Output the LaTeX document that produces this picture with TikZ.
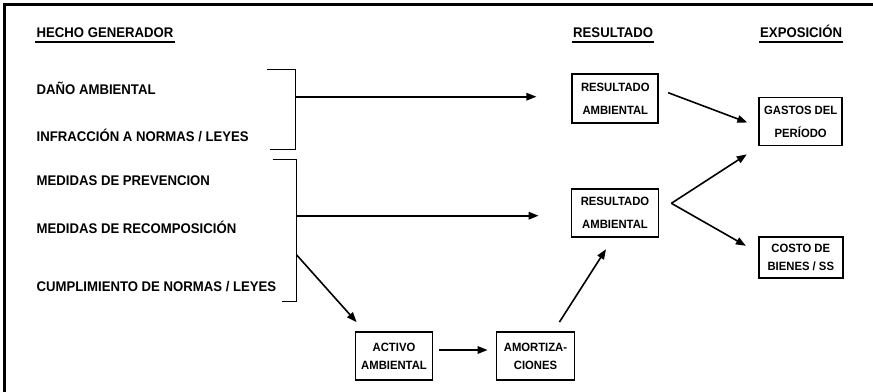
\documentclass[tikz,border=0pt]{standalone}
\usepackage{fontspec}
\setmainfont{Liberation Sans}[FakeStretch=0.94]
\usetikzlibrary{arrows.meta}

\begin{document}
\begin{tikzpicture}[x=1pt,y=1pt,yscale=-1,xscale=1,
    lbl/.style={anchor=base west,inner sep=0pt,font=\fontsize{14}{16}\selectfont\bfseries},
    box/.style={draw,line width=1.8pt,inner sep=0pt,align=center,font=\fontsize{12}{23}\selectfont\bfseries},
    tight/.style={font=\fontsize{12}{18}\selectfont\bfseries},
    arr/.style={line width=1.6pt,-{Triangle[length=10pt,width=7.5pt]}},
    brk/.style={line width=1pt},
    ul/.style={line width=2pt}]
  \useasboundingbox (0,0) rectangle (873,391);
  % marco
  \draw[line width=2.6pt] (4.7,400) -- (4.7,4.5) -- (880,4.5);
  % titulos
  \node[lbl] (hecho) at (36.5,37) {HECHO GENERADOR};
  \node[lbl] (result) at (573,37) {RESULTADO};
  \node[lbl] (expo) at (760,37) {EXPOSICIÓN};
  \draw[ul] ([shift={(-1.5,5)}]hecho.base west) -- ([shift={(1.5,5)}]hecho.base east);
  \draw[ul] ([shift={(-1,5)}]result.base west) -- ([shift={(1,5)}]result.base east);
  \draw[ul] ([shift={(-1,5)}]expo.base west) -- ([shift={(1,5)}]expo.base east);
  % hechos
  \node[lbl] (dano) at (36.5,94) {DAÑO AMBIENTAL};
  \node[lbl] (infra) at (36.5,141.5) {INFRACCIÓN A NORMAS / LEYES};
  \node[lbl] (prev) at (36.5,185) {MEDIDAS DE PREVENCION};
  \node[lbl] (recomp) at (36.5,233) {MEDIDAS DE RECOMPOSICIÓN};
  \node[lbl] (cumpl) at (36.5,291.5) {CUMPLIMIENTO DE NORMAS / LEYES};
  % llaves
  \draw[brk] (267,69) -- (295,69) -- (295,149.3) -- (270,149.3);
  \draw[brk] (272.7,159.3) -- (296.7,159.3) -- (296.7,301.7) -- (281.7,301.7);
  \coordinate (b1) at (295,96.7);
  \coordinate (b2) at (296.7,215.7);
  \coordinate (b3) at (296.7,255);
  % cajas
  \node[box,minimum width=86pt,minimum height=49pt] (res1) at (615.3,98.7) {RESULTADO\\AMBIENTAL};
  \node[box,minimum width=83pt,minimum height=48pt] (gastos) at (800.7,121.5) {GASTOS DEL\\PERÍODO};
  \node[box,minimum width=87pt,minimum height=48pt] (res2) at (615,213.3) {RESULTADO\\AMBIENTAL};
  \node[box,tight,minimum width=84pt,minimum height=41pt] (costo) at (800.8,257.2) {COSTO DE\\BIENES / SS};
  \node[box,tight,minimum width=77pt,minimum height=48pt] (activo) at (394,356) {ACTIVO\\AMBIENTAL};
  \node[box,tight,minimum width=78pt,minimum height=48pt] (amort) at (535.5,356) {AMORTIZA-\\CIONES};
  % flechas
  \draw[arr,shorten >=35pt] (b1) -- (b1 -| res1.west);
  \draw[arr,shorten >=32pt] (b2) -- (b2 -| res2.west);
  \draw[arr] (b3) -- ([shift={(2,-9)}]activo.north west);
  \draw[arr] ([shift={(6,-6)}]activo.east) -- ([shift={(-8,-6)}]amort.west);
  \draw[arr] ([shift={(-16,-9)}]amort.north east) -- ([shift={(-9,11)}]res2.south);
  \draw[arr] ([shift={(9,-6)}]res1.east) -- ([shift={(-11,1)}]gastos.west);
  \coordinate (v) at ([shift={(12,-10)}]res2.east);
  \draw[arr] (v) -- ([shift={(-11.5,8)}]gastos.south west);
  \draw[arr] (v) -- ([shift={(-12,10)}]costo.north west);
\end{tikzpicture}
\end{document}
